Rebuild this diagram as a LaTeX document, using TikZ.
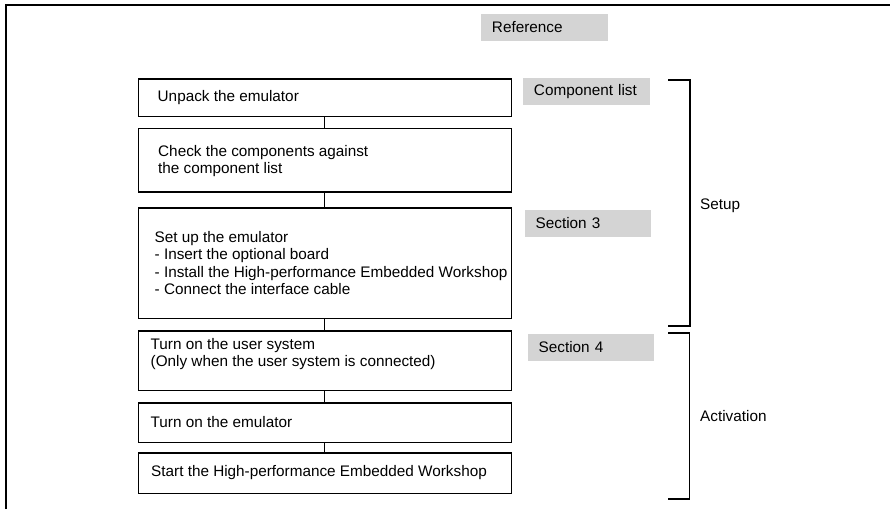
\documentclass[tikz,border=0pt]{standalone}
\usepackage{fontspec}
\setmainfont{Liberation Sans}
\definecolor{refgray}{RGB}{212,212,212}
\begin{document}
\begin{tikzpicture}[x=1pt,y=-1pt,
  font=\fontsize{15.3}{17.6}\selectfont,
  stepbox/.style={draw=black, line width=1.5pt, minimum width=373pt, inner sep=0pt},
  steptxt/.style={anchor=west, align=left, inner sep=0pt},
  refbox/.style={fill=refgray, minimum width=126.7pt, minimum height=26.7pt, text width=104.7pt, inner xsep=11pt, inner ysep=0pt, align=left},
  link/.style={draw=black, line width=1.3pt},
  brace/.style={draw=black, line width=1.7pt},
  side/.style={anchor=west, inner sep=0pt}]
\useasboundingbox (0,0) rectangle (890,509);
% outer frame (only top and left edges visible)
\draw[line width=1.6pt] (6,509) -- (6,5) -- (890,5);

% step boxes
\node[stepbox, minimum height=37.5pt]  (b1) at (324.75,97.5)  {};
\node[stepbox, minimum height=63.5pt]  (b2) at (324.75,160)   {};
\node[stepbox, minimum height=110.5pt] (b3) at (324.75,263)   {};
\node[stepbox, minimum height=59.5pt]  (b4) at (324.75,360.5) {};
\node[stepbox, minimum height=39.5pt]  (b5) at (324.75,422.5) {};
\node[stepbox, minimum height=40.5pt]  (b6) at (324.75,473)   {};

\node[steptxt] (t1) at ([xshift=20pt]b1.west) {Unpack the emulator};
\node[steptxt] (t2) at ([xshift=20.5pt,yshift=-1pt]b2.west) {Check the components against\\the component list};
\node[steptxt] (t3) at ([xshift=17pt]b3.west) {Set up the emulator\\- Insert the optional board\\- Install the High-performance Embedded Workshop\\- Connect the interface cable};
\node[steptxt] (t4) at ([xshift=13pt,yshift=6.5pt]b4.west) {Turn on the user system\\(Only when the user system is connected)};
\node[steptxt] (t5) at ([xshift=13pt]b5.west) {Turn on the emulator};
\node[steptxt] (t6) at ([xshift=13.5pt]b6.west) {Start the High-performance Embedded Workshop};

% connectors
\draw[link] (b1.south) -- (b2.north);
\draw[link] (b2.south) -- (b3.north);
\draw[link] (b3.south) -- (b4.north);
\draw[link] (b4.south) -- (b5.north);
\draw[link] (b5.south) -- (b6.north);

% reference boxes
\node[refbox] (r0) at (544.3,27.3)  {Reference};
\node[refbox] (r1) at (586.3,91.7)  {Component list};
\node[refbox] (r3) at (588,223.3)   {Section 3};
\node[refbox] (r4) at (591,347.3)   {Section 4};

% brackets
\coordinate (s1) at (668,80);
\coordinate (s2) at (690,80);
\coordinate (s3) at (690,326);
\coordinate (s4) at (668,326);
\draw[brace] (s1) -- (s2) -- (s3) -- (s4);
\coordinate (a1) at (668,333);
\coordinate (a2) at (689.5,333);
\coordinate (a3) at (689.5,499);
\coordinate (a4) at (668,499);
\draw[brace] (a1) -- (a2) -- (a3) -- (a4);

\node[side] (lsetup) at (700,206) {Setup};
\node[side] (lact)   at (700,416.5) {Activation};
\end{tikzpicture}
\end{document}
